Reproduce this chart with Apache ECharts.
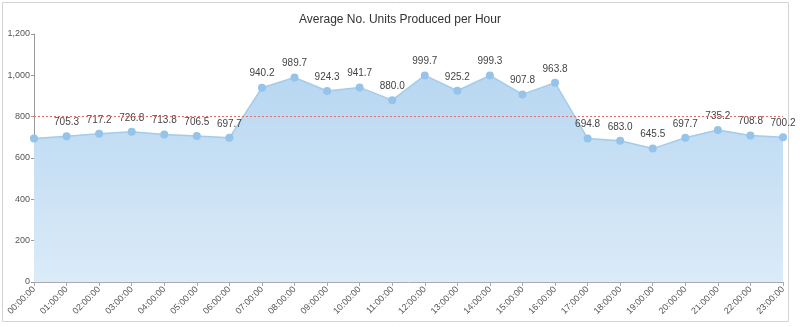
<!DOCTYPE html>
<html><head><meta charset="utf-8">
<script src="https://cdn.jsdelivr.net/npm/echarts@6/dist/echarts.min.js"></script>
<style>html,body{margin:0;padding:0;background:#fff}#c{width:800px;height:327px}</style>
</head><body><div id="c"></div>
<script>
const categories = ["00:00:00","01:00:00","02:00:00","03:00:00","04:00:00","05:00:00","06:00:00","07:00:00","08:00:00","09:00:00","10:00:00","11:00:00","12:00:00","13:00:00","14:00:00","15:00:00","16:00:00","17:00:00","18:00:00","19:00:00","20:00:00","21:00:00","22:00:00","23:00:00"];
const unitsPerHour = [694.0,705.3,717.2,726.8,713.8,706.5,697.7,940.2,989.7,924.3,941.7,880.0,999.7,925.2,999.3,907.8,963.8,694.8,683.0,645.5,697.7,735.2,708.8,700.2];
const yTicks = {min:0, max:1200, interval:200};
const chart = echarts.init(document.getElementById('c'), null, {renderer:'canvas'});
chart.setOption({
  animation:false,
  title:{text:'Average No. Units Produced per Hour', left:'center', top:9,
    textStyle:{fontSize:12, fontWeight:'normal', color:'#333', fontFamily:'Arial, Liberation Sans, sans-serif'}},
  graphic:[{type:'rect', shape:{x:2.5,y:2.5,width:786,height:319}, style:{fill:'none', stroke:'#d4d4d4', lineWidth:1}, silent:true}],
  grid:{left:34, right:17, top:34, bottom:45},
  xAxis:{type:'category', data:categories, boundaryGap:false,
    axisLine:{lineStyle:{color:'#aaa'}}, axisTick:{lineStyle:{color:'#aaa'}, length:4},
    axisLabel:{rotate:45, fontSize:9, color:'#555', interval:0, margin:6, fontFamily:'Arial, Liberation Sans, sans-serif'}},
  yAxis:{type:'value', min:yTicks.min, max:yTicks.max, interval:yTicks.interval,
    axisLine:{show:true, lineStyle:{color:'#999'}}, axisTick:{show:true, length:3, lineStyle:{color:'#999'}},
    splitLine:{show:false},
    axisLabel:{fontSize:9, color:'#555', margin:4, fontFamily:'Arial, Liberation Sans, sans-serif',
      formatter:v=>v.toLocaleString('en-US')}},
  series:[{type:'line', data:unitsPerHour, symbol:'circle', symbolSize:8,
    itemStyle:{color:'#95c3ea'}, lineStyle:{color:'#a3cbec', width:1.5},
    areaStyle:{color:new echarts.graphic.LinearGradient(0,0,0,1,[{offset:0,color:'#b8d7f1'},{offset:1,color:'#dbebf8'}]), opacity:1},
    label:{show:true, position:'top', fontSize:10, color:'#444', distance:5, fontFamily:'Arial, Liberation Sans, sans-serif',
      formatter:p=> p.dataIndex===0 ? '' : p.value.toFixed(1)},
    markLine:{silent:true, symbol:'none', label:{show:false},
      lineStyle:{color:'#e07070', type:[2,2], width:1},
      data:[{type:'average'}]}
  }]
});
</script></body></html>
